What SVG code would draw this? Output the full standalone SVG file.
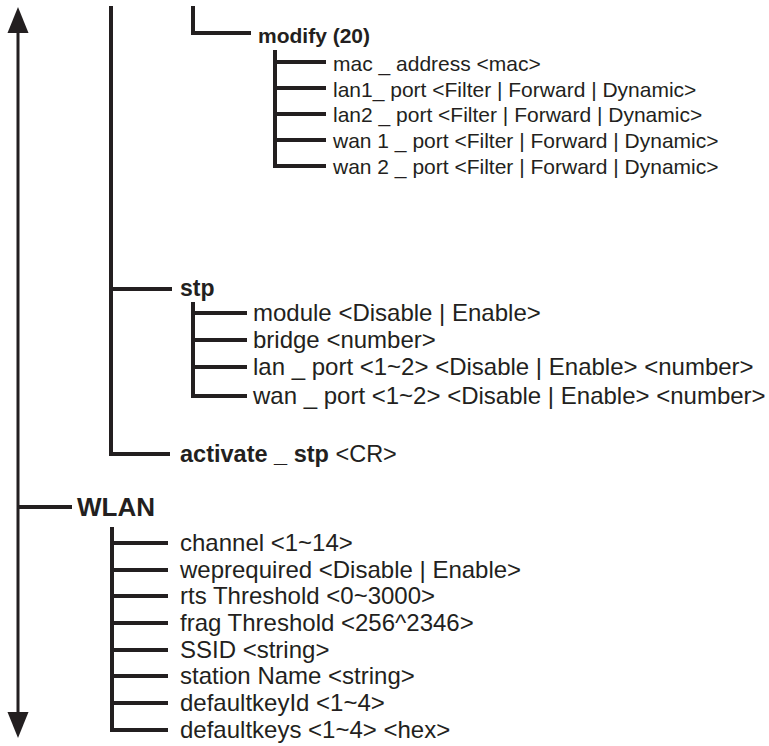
<svg xmlns="http://www.w3.org/2000/svg" width="769" height="746" viewBox="0 0 769 746">
<style>
.c{stroke:#231f20;stroke-width:4;fill:none;stroke-linejoin:miter}
.a{stroke:#231f20;stroke-width:3;fill:none}
.h{fill:#231f20}
.t{font-family:"Liberation Sans",Arial,sans-serif;fill:#231f20}
.s{font-size:21px}
.m{font-size:24px}
.b{font-weight:bold}
</style>
<rect width="769" height="746" fill="#ffffff"/>
<g id="connectors">
<path class="a" d="M18 28V716"/>
<polygon class="h" points="18,7 7.5,33 28.5,33"/>
<polygon class="h" points="18,738 7.5,712 28.5,712"/>
<path class="c" d="M111 6V454H170"/>
<path class="c" d="M193 6V33H251"/>
<path class="c" d="M275 50V166H326M275 62H326M275 88H326M275 114H326M275 140H326"/>
<path class="c" d="M111 289H172"/>
<path class="c" d="M193 302V396H247M193 313H247M193 340H247M193 367H247"/>
<path class="c" d="M18 507H72"/>
<path class="c" d="M112 527V730H168M112 543H168M112 570H168M112 596H168M112 623H168M112 650H168M112 676H168M112 703H168"/>
</g>
<g id="modify" class="t s"><text class="b" x="258" y="43">modify (20)</text></g>
<g id="mac_address" class="t s"><text x="333" y="71">mac _ address &lt;mac&gt;</text></g>
<g id="lan1_port" class="t s"><text x="333" y="97">lan1_ port &lt;Filter | Forward | Dynamic&gt;</text></g>
<g id="lan2_port" class="t s"><text x="333" y="122">lan2 _ port &lt;Filter | Forward | Dynamic&gt;</text></g>
<g id="wan1_port" class="t s"><text x="333" y="148">wan 1 _ port &lt;Filter | Forward | Dynamic&gt;</text></g>
<g id="wan2_port" class="t s"><text x="333" y="174">wan 2 _ port &lt;Filter | Forward | Dynamic&gt;</text></g>
<g id="stp" class="t"><text class="b" x="180" y="296" font-size="23">stp</text></g>
<g id="module" class="t m"><text x="253" y="321">module &lt;Disable | Enable&gt;</text></g>
<g id="bridge" class="t m"><text x="253" y="348">bridge &lt;number&gt;</text></g>
<g id="lan_port" class="t m"><text x="253" y="375">lan _ port &lt;1~2&gt; &lt;Disable | Enable&gt; &lt;number&gt;</text></g>
<g id="wan_port" class="t m"><text x="253" y="404">wan _ port &lt;1~2&gt; &lt;Disable | Enable&gt; &lt;number&gt;</text></g>
<g id="activate_stp" class="t"><text x="180" y="462" font-size="23.5"><tspan class="b">activate _ stp</tspan> &lt;CR&gt;</text></g>
<g id="wlan" class="t"><text class="b" x="77" y="516" font-size="26">WLAN</text></g>
<g id="channel" class="t m"><text x="180" y="551">channel &lt;1~14&gt;</text></g>
<g id="weprequired" class="t m"><text x="180" y="578">weprequired &lt;Disable | Enable&gt;</text></g>
<g id="rts" class="t m"><text x="180" y="604">rts Threshold &lt;0~3000&gt;</text></g>
<g id="frag" class="t m"><text x="180" y="631">frag Threshold &lt;256^2346&gt;</text></g>
<g id="ssid" class="t m"><text x="180" y="658">SSID &lt;string&gt;</text></g>
<g id="station" class="t m"><text x="180" y="684">station Name &lt;string&gt;</text></g>
<g id="defaultkeyid" class="t m"><text x="180" y="711">defaultkeyId &lt;1~4&gt;</text></g>
<g id="defaultkeys" class="t m"><text x="180" y="738">defaultkeys &lt;1~4&gt; &lt;hex&gt;</text></g>
</svg>
